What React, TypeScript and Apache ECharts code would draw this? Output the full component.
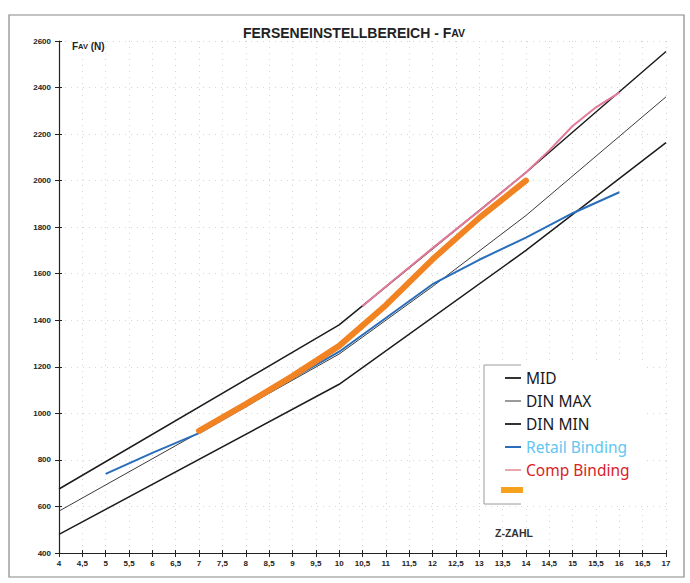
import React, { useEffect, useRef } from "react";
import * as echarts from "echarts";

// X positions (Z-Zahl) and force values (N)
const dinMaxX = [4, 10, 14, 17];
const dinMaxY = [675, 1380, 2035, 2555];
const midX = [4, 10, 12, 14, 17];
const midY = [580, 1255, 1545, 1850, 2360];
const dinMinX = [4, 10, 14, 17];
const dinMinY = [480, 1125, 1700, 2163];
const retailX = [5, 6, 7, 8, 9, 10, 11, 12, 13, 14, 15, 16];
const retailY = [740, 830, 915, 1030, 1150, 1265, 1410, 1555, 1660, 1755, 1860, 1950];
const compX = [10.5, 11, 12, 13, 14, 14.5, 15, 15.5, 16];
const compY = [1460, 1545, 1710, 1870, 2035, 2130, 2235, 2315, 2378];
const orangeX = [7, 8, 9, 10, 11, 12, 13, 14];
const orangeY = [925, 1040, 1160, 1290, 1465, 1662, 1840, 2000];

const zip = (xs: number[], ys: number[]) => xs.map((x, i) => [x, ys[i]]);

const fmtX = (v: number) => String(v).replace(".", ",");
const fmtY = (v: number) => String(v);

export default function App() {
  const ref = useRef<HTMLDivElement>(null);
  useEffect(() => {
    if (!ref.current) return;
    const chart = echarts.init(ref.current, null, { renderer: "svg" });
    const axisFont = { fontFamily: "Liberation Sans", fontWeight: "bold" as const, fontSize: 8, color: "#222" };
    const dotted = { color: "#d4d4d4", width: 1, type: [1, 5] as any };
    chart.setOption({
      animation: false,
      backgroundColor: "#fff",
      title: {
        text: "{a|FERSENEINSTELLBEREICH - F}{b|AV}",
        left: 349,
        textAlign: "center",
        top: 21,
        textStyle: {
          rich: {
            a: { fontFamily: "Liberation Sans", fontWeight: "bold", fontSize: 14, color: "#222" },
            b: { fontFamily: "Liberation Sans", fontWeight: "bold", fontSize: 10.5, color: "#222" },
          },
        },
      },
      grid: { left: 59, right: 24, top: 41, bottom: 30, containLabel: false },
      legend: {
        orient: "vertical",
        left: 500,
        top: 365,
        z: 20,
        icon: "rect",
        itemWidth: 16,
        itemHeight: 2,
        itemGap: 7,
        textStyle: { fontFamily: "Noto Sans", fontSize: 15.5, color: "#1a1a1a" },
        data: [
          { name: "MID", itemStyle: { color: "#333" } },
          { name: "DIN MAX", itemStyle: { color: "#9a9a9a" } },
          { name: "DIN MIN", itemStyle: { color: "#333" } },
          { name: "Retail Binding", itemStyle: { color: "#2a6ebb" }, textStyle: { color: "#62c6f0" } },
          { name: "Comp Binding", itemStyle: { color: "#e8a6b0" }, textStyle: { color: "#d8222a" } },
        ],
      },
      xAxis: [
        {
          type: "value",
          min: 4,
          max: 17,
          interval: 0.5,
          position: "bottom",
          axisLine: { lineStyle: { color: "#222", width: 1.2 } },
          axisTick: { show: true, length: 4, lineStyle: { color: "#222" } },
          axisLabel: { ...axisFont, margin: 6, formatter: fmtX },
          splitLine: { show: true, lineStyle: dotted },
        },
        {
          type: "value",
          min: 4,
          max: 17,
          interval: 0.5,
          position: "bottom",
          axisLine: { show: false },
          axisTick: { show: true, inside: true, length: 3, lineStyle: { color: "#222" } },
          axisLabel: { show: false },
          splitLine: { show: false },
        },
      ],
      yAxis: [
        {
          type: "value",
          min: 400,
          max: 2600,
          interval: 200,
          axisLine: { show: true, lineStyle: { color: "#222", width: 1.2 } },
          axisTick: { show: true, length: 4, lineStyle: { color: "#222" } },
          axisLabel: { ...axisFont, margin: 8, formatter: fmtY },
          splitLine: { show: true, lineStyle: dotted },
        },
        {
          type: "value",
          min: 400,
          max: 2600,
          interval: 200,
          position: "left",
          axisLine: { show: false },
          axisTick: { show: true, inside: true, length: 3, lineStyle: { color: "#222" } },
          axisLabel: { show: false },
          splitLine: { show: false },
        },
      ],
      graphic: [
        {
          type: "rect",
          z: 10,
          shape: { x: 9, y: 15, width: 675, height: 562 },
          style: { fill: "none", stroke: "#888", lineWidth: 1.2 },
        },
        {
          type: "rect",
          z: 10,
          shape: { x: 484, y: 365, width: 163, height: 140 },
          style: { fill: "#fff", stroke: "none" },
        },
        {
          type: "polyline",
          z: 11,
          shape: { points: [[521, 365], [484, 365], [484, 504], [521, 504]] },
          style: { fill: "none", stroke: "#9a9a9a", lineWidth: 1 },
        },
        {
          type: "rect",
          z: 12,
          shape: { x: 501, y: 487, width: 22, height: 6 },
          style: { fill: "#f6a21e" },
        },
        {
          type: "text",
          z: 12,
          x: 72,
          y: 41,
          style: {
            text: "{a|F}{b|AV}{a| (N)}",
            rich: {
              a: { fontFamily: "Liberation Sans", fontWeight: "bold", fontSize: 10, fill: "#222" },
              b: { fontFamily: "Liberation Sans", fontWeight: "bold", fontSize: 7.5, fill: "#222" },
            },
          },
        },
        {
          type: "text",
          z: 12,
          x: 495,
          y: 527,
          style: {
            text: "Z-ZAHL",
            fontFamily: "Liberation Sans",
            fontWeight: "bold",
            fontSize: 10.5,
            fill: "#333",
          },
        },
      ],
      series: [
        {
          name: "DIN MAX",
          type: "line",
          data: zip(dinMaxX, dinMaxY),
          symbol: "none",
          lineStyle: { color: "#1c1c1c", width: 1.5 },
          itemStyle: { color: "#9a9a9a" },
          z: 2,
        },
        {
          name: "MID",
          type: "line",
          data: zip(midX, midY),
          symbol: "none",
          lineStyle: { color: "#3a3a3a", width: 1 },
          itemStyle: { color: "#333" },
          z: 2,
        },
        {
          name: "DIN MIN",
          type: "line",
          data: zip(dinMinX, dinMinY),
          symbol: "none",
          lineStyle: { color: "#1c1c1c", width: 1.5 },
          itemStyle: { color: "#333" },
          z: 2,
        },
        {
          name: "Retail Binding",
          type: "line",
          data: zip(retailX, retailY),
          symbol: "none",
          lineStyle: { color: "#2a6ebb", width: 2 },
          itemStyle: { color: "#2a6ebb" },
          z: 3,
        },
        {
          name: "Comp Binding",
          type: "line",
          data: zip(compX, compY),
          symbol: "none",
          lineStyle: { color: "#e27a98", width: 2 },
          itemStyle: { color: "#e8a6b0" },
          z: 3,
        },
        {
          name: "Orange",
          type: "line",
          data: zip(orangeX, orangeY),
          symbol: "none",
          lineStyle: { color: "#f28322", width: 6, cap: "round" },
          itemStyle: { color: "#f28322" },
          z: 4,
        },
      ],
    });
    return () => chart.dispose();
  }, []);
  return <div ref={ref} style={{ width: 690, height: 583, position: "absolute", left: 0, top: 0 }} />;
}
